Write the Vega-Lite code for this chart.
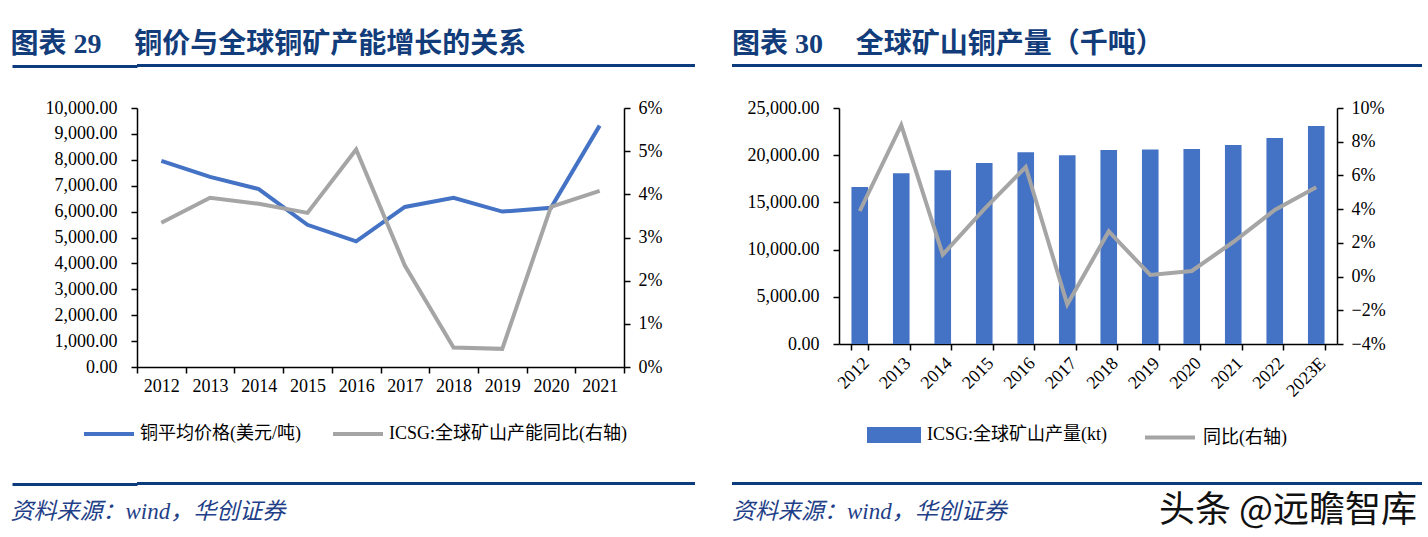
{
  "$schema": "https://vega.github.io/schema/vega-lite/v6.json",
  "padding": {"left": 10, "top": 30, "right": 0, "bottom": 0},
  "background": "white",
  "config": {
    "view": {"stroke": null},
    "font": "Liberation Serif, Noto Sans CJK SC",
    "axis": {"labelFont": "Liberation Serif, Noto Sans CJK SC", "labelFontSize": 18, "labelColor": "#000", "domainColor": "#000", "tickColor": "#000", "domainWidth": 1.5, "tickWidth": 1.5, "grid": false, "title": null},
    "legend": {"labelFont": "Liberation Serif, Noto Sans CJK SC", "labelFontSize": 18, "labelColor": "#000", "labelLimit": 400},
    "title": {"font": "Liberation Serif, Noto Sans CJK SC", "frame": "bounds"}
  },
  "title": {"text": "头条 @远瞻智库", "orient": "bottom", "anchor": "end", "offset": -30, "dx": -5, "font": "Noto Sans CJK SC", "fontSize": 36, "fontWeight": "normal", "color": "#111"},
  "resolve": {"scale": {"color": "independent"}, "legend": {"color": "independent"}},
  "spacing": 31,
  "vconcat": [
    {
      "spacing": 30,
      "resolve": {"scale": {"color": "independent"}, "legend": {"color": "independent"}},
      "vconcat": [
        {
          "spacing": 37,
          "hconcat": [
            {
              "width": 558, "height": 3,
              "view": {"fill": "#0d3c7e", "stroke": null},
              "title": {"text": "图表 29\u3000\u2006铜价与全球铜矿产能增长的关系", "anchor": "start", "fontSize": 28, "fontWeight": "bold", "color": "#123c7a", "offset": 4},
              "data": {"values": [{}]},
              "mark": {"type": "point", "opacity": 0},
              "encoding": {
                "y": {"datum": 0.5, "type": "quantitative", "scale": {"domain": [0, 1]},
                      "axis": {"values": [0.5], "tickSize": 125, "tickWidth": 3, "tickColor": "#0d3c7e", "domain": false, "labels": false}}
              }
            },
            {
              "width": 690, "height": 3,
              "view": {"fill": "#0d3c7e", "stroke": null},
              "title": {"text": "图表 30\u3000\u2006全球矿山铜产量（千吨）", "anchor": "start", "fontSize": 28, "fontWeight": "bold", "color": "#123c7a", "offset": 4},
              "data": {"values": [{}]},
              "mark": {"type": "point", "opacity": 0},
              "encoding": {}
            }
          ]
        },
        {
          "spacing": 33,
          "resolve": {"scale": {"color": "independent"}, "legend": {"color": "independent"}},
          "hconcat": [
            {
              "width": 487, "height": 259,
              "data": {"values": [
                {"year": "2012", "price": 7960, "cap": 0.0334},
                {"year": "2013", "price": 7340, "cap": 0.0392},
                {"year": "2014", "price": 6870, "cap": 0.0378},
                {"year": "2015", "price": 5490, "cap": 0.0357},
                {"year": "2016", "price": 4850, "cap": 0.0504},
                {"year": "2017", "price": 6180, "cap": 0.0235},
                {"year": "2018", "price": 6530, "cap": 0.0045},
                {"year": "2019", "price": 6000, "cap": 0.0042},
                {"year": "2020", "price": 6150, "cap": 0.0371},
                {"year": "2021", "price": 9320, "cap": 0.0408}
              ]},
              "encoding": {
                "x": {"field": "year", "type": "ordinal", "scale": {"type": "band", "paddingInner": 0, "paddingOuter": 0},
                      "axis": {"labelAngle": 0, "tickBand": "extent", "tickSize": 6, "labelPadding": 4}}
              },
              "layer": [
                {
                  "mark": {"type": "line", "strokeWidth": 4},
                  "encoding": {
                    "y": {"field": "price", "type": "quantitative", "scale": {"domain": [0, 10000]},
                          "axis": {"values": [0,1000,2000,3000,4000,5000,6000,7000,8000,9000,10000], "format": ",.2f", "tickSize": 6, "labelPadding": 14, "minExtent": 125}},
                    "color": {"datum": "铜平均价格(美元/吨)", "type": "nominal",
                      "scale": {"domain": ["铜平均价格(美元/吨)", "ICSG:全球矿山产能同比(右轴)"], "range": ["#4472c4", "#a5a5a5"]},
                      "legend": {"orient": "none", "legendX": -55, "legendY": 299, "direction": "horizontal", "title": null, "symbolType": "stroke", "symbolSize": 2500, "symbolStrokeWidth": 4, "columnPadding": 24, "labelOffset": 4}}
                  }
                },
                {
                  "mark": {"type": "line", "strokeWidth": 4},
                  "encoding": {
                    "y": {"field": "cap", "type": "quantitative", "scale": {"domain": [0, 0.06]},
                          "axis": {"orient": "right", "values": [0,0.01,0.02,0.03,0.04,0.05,0.06], "format": ".0%", "tickSize": 6, "labelPadding": 8, "minExtent": 70}},
                    "color": {"datum": "ICSG:全球矿山产能同比(右轴)", "type": "nominal"}
                  }
                }
              ],
              "resolve": {"scale": {"y": "independent"}}
            },
            {
              "width": 498, "height": 236,
              "data": {"values": [
                {"year": "2012", "output": 16630, "yoy": 0.0389},
                {"year": "2013", "output": 18100, "yoy": 0.0899},
                {"year": "2014", "output": 18400, "yoy": 0.0130},
                {"year": "2015", "output": 19170, "yoy": 0.0400},
                {"year": "2016", "output": 20300, "yoy": 0.0650},
                {"year": "2017", "output": 20000, "yoy": -0.0165},
                {"year": "2018", "output": 20550, "yoy": 0.0268},
                {"year": "2019", "output": 20600, "yoy": 0.0010},
                {"year": "2020", "output": 20660, "yoy": 0.0033},
                {"year": "2021", "output": 21080, "yoy": 0.0205},
                {"year": "2022", "output": 21820, "yoy": 0.0395},
                {"year": "2023E", "output": 23090, "yoy": 0.0530}
              ]},
              "encoding": {
                "x": {"field": "year", "type": "ordinal", "scale": {"type": "band", "paddingInner": 0.6, "paddingOuter": 0.3},
                      "axis": {"labelAngle": -45, "tickBand": "extent", "tickSize": 6, "labelPadding": 4}}
              },
              "layer": [
                {
                  "mark": {"type": "bar"},
                  "encoding": {
                    "y": {"field": "output", "type": "quantitative", "scale": {"domain": [0, 25000]},
                          "axis": {"values": [0,5000,10000,15000,20000,25000], "format": ",.2f", "tickSize": 6, "labelPadding": 14, "minExtent": 112}},
                    "color": {"datum": "ICSG:全球矿山产量(kt)", "type": "nominal",
                      "scale": {"domain": ["ICSG:全球矿山产量(kt)", "同比(右轴)"], "range": ["#4472c4", "#a5a5a5"]},
                      "legend": {"orient": "none", "legendX": 28, "legendY": 300, "direction": "horizontal", "title": null, "symbolSize": 2500, "columnPadding": 30, "labelOffset": 6,
                        "encode": {"symbols": {"update": {
                          "shape": {"signal": "datum.value === '同比(右轴)' ? 'M-1,0H1' : 'M-1,-0.24H1V0.24H-1Z'"},
                          "fill": {"signal": "datum.value === '同比(右轴)' ? 'transparent' : '#4472c4'"},
                          "stroke": {"signal": "datum.value === '同比(右轴)' ? '#a5a5a5' : 'transparent'"},
                          "strokeWidth": {"value": 4},
                          "opacity": {"value": 1}
                        }}}}
                    }
                  }
                },
                {
                  "mark": {"type": "line", "strokeWidth": 4},
                  "encoding": {
                    "y": {"field": "yoy", "type": "quantitative", "scale": {"domain": [-0.04, 0.10]},
                          "axis": {"orient": "right", "values": [-0.04,-0.02,0,0.02,0.04,0.06,0.08,0.10], "format": ".0%", "tickSize": 6, "labelPadding": 8}},
                    "color": {"datum": "同比(右轴)", "type": "nominal"}
                  }
                }
              ],
              "resolve": {"scale": {"y": "independent"}}
            }
          ]
        }
      ]
    },
    {
      "spacing": 37,
      "hconcat": [
        {
          "width": 558, "height": 3,
          "view": {"fill": "#0d3c7e", "stroke": null},
          "title": {"text": "资料来源：wind，华创证券", "orient": "bottom", "anchor": "start", "fontSize": 23, "fontWeight": "normal", "fontStyle": "italic", "color": "#1f3f88", "offset": 15},
          "data": {"values": [{}]},
          "mark": {"type": "point", "opacity": 0},
          "encoding": {
            "y": {"datum": 0.5, "type": "quantitative", "scale": {"domain": [0, 1]},
                  "axis": {"values": [0.5], "tickSize": 125, "tickWidth": 3, "tickColor": "#0d3c7e", "domain": false, "labels": false}}
          }
        },
        {
          "width": 690, "height": 3,
          "view": {"fill": "#0d3c7e", "stroke": null},
          "title": {"text": "资料来源：wind，华创证券", "orient": "bottom", "anchor": "start", "fontSize": 23, "fontWeight": "normal", "fontStyle": "italic", "color": "#1f3f88", "offset": 15},
          "data": {"values": [{}]},
          "mark": {"type": "point", "opacity": 0},
          "encoding": {}
        }
      ]
    }
  ]
}
